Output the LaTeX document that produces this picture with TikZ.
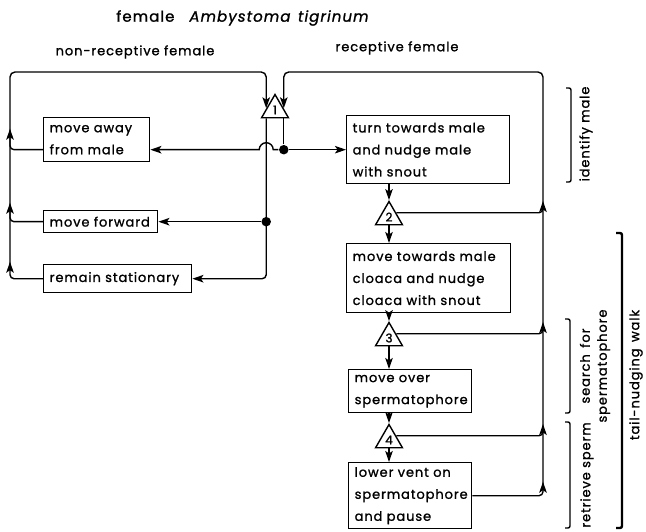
\documentclass[tikz,border=0pt]{standalone}
\usepackage{fontspec}
\setmainfont{Poppins}[LetterSpace=7,FakeBold=1.2]
\usetikzlibrary{arrows,arrows.meta,calc,positioning,shapes.geometric}

\begin{document}
\begin{tikzpicture}[x=1pt,y=-1pt,>={Stealth[length=11pt,width=7.5pt,inset=2.5pt]},
  line width=1.4pt,font=\fontsize{13}{22}\selectfont]
  \tikzstyle{box}=[draw,anchor=north west,align=left,inner xsep=6pt,inner ysep=0pt]
  \tikzstyle{tri}=[draw,regular polygon,regular polygon sides=3,minimum size=31pt,
    inner sep=0pt,font=\fontsize{12}{12}\selectfont]
  \tikzstyle{dot}=[circle,fill,inner sep=0pt,minimum size=9.5pt]
  \tikzstyle{lab}=[rotate=90,align=center,font=\fontsize{13}{17}\selectfont]
  \tikzstyle{bracket}=[rounded corners=2pt]

  \useasboundingbox (0,0) rectangle (646,532);

  \node (title) at (243,18) {\fontsize{15}{17}\selectfont female\quad\textit{Ambystoma\enspace tigrinum}};
  \node (nonrec) at (135,52) {non-receptive female};
  \node (rec) at (397,48) {receptive female};

  % boxes
  \node[box,text width=94pt,minimum height=44pt] (away) at (43,117) {move away\\from male};
  \node[box,text width=102pt,minimum height=22pt] (fwd) at (43,210) {move forward};
  \node[box,text width=136pt,minimum height=28pt] (stay) at (43,264) {remain stationary};
  \node[box,text width=151pt,minimum height=68pt] (turn) at (346,115) {turn towards male\\and nudge male\\with snout};
  \node[box,text width=152pt,minimum height=69pt] (cloaca) at (346,243) {move towards male\\cloaca and nudge\\cloaca with snout};
  \node[box,text width=111pt,minimum height=43pt] (over) at (348,369) {move over\\spermatophore};
  \node[box,text width=111pt,minimum height=66pt] (vent) at (348,462) {lower vent on\\spermatophore\\and pause};

  % decision triangles
  \node[tri] (t1) at (275,110) {1};
  \node[tri] (t2) at (389,217) {2};
  \node[tri] (t3) at (389,338) {3};
  \node[tri] (t4) at (389,440) {4};

  \coordinate (t1a) at ($(t1.corner 1)!0.6!(t1.corner 2)$);
  \coordinate (t1b) at ($(t1.corner 1)!0.6!(t1.corner 3)$);
  \coordinate (t1c) at ($(t1.corner 2)!0.2!(t1.corner 3)$);
  \coordinate (t1d) at ($(t1.corner 2)!0.8!(t1.corner 3)$);
  \coordinate (ll) at (10,72);
  \coordinate (rl) at (543,72);

  \node[dot] (d1) at (t1d |- turn.west) {};
  \node[dot] (d2) at (t1c |- fwd.east) {};

  % non-receptive female
  \draw (t1d) -- (d1);
  \draw[->] (d1) -- (turn.west);
  \draw[->] (d1) -- ($(d1 -| t1c)+(7,0)$) arc[start angle=0,end angle=180,radius=7pt]
    -- (away.east |- d1);
  \draw[->,rounded corners=4pt] (t1c) |- (stay.east);
  \draw[->] (d2) -- (fwd.east);
  \draw[->,rounded corners=4pt] (away.west |- d1) -| ($(ll |- d1)+(0,-21)$);
  \draw[->,rounded corners=4pt] (fwd.west) -| ($(ll |- fwd.west)+(0,-19)$);
  \draw[->,rounded corners=4pt] (stay.west) -| ($(ll |- stay.west)+(0,-17)$);
  \draw[->,rounded corners=5pt] ($(ll |- stay.west)+(0,-8)$) |- (t1a |- ll) -- (t1a);

  % receptive female
  \draw[->] (turn.south -| t2) -- (t2.corner 1);
  \draw[->] (t2.corner 2 -| t2) -- (cloaca.north -| t2);
  \draw[->] (cloaca.south -| t3) -- (t3.corner 1);
  \draw[->] (t3.corner 2 -| t3) -- (over.north -| t3);
  \draw[->] (over.south -| t4) -- (t4.corner 1);
  \draw[->] (t4.corner 2 -| t4) -- (vent.north -| t4);
  \foreach \t in {t2,t3,t4}
    \draw[->,rounded corners=4pt] ($(\t.corner 1)!0.5!(\t.corner 3)$)
      -| ($(rl |- \t)+(0,-16)$);
  \draw[->,rounded corners=4pt] (vent.east) -| ($(rl |- vent.east)+(0,-14)$);
  \draw[->,rounded corners=5pt] ($(rl |- vent.east)+(0,-8)$) |- (t1b |- rl) -- (t1b);

  % phases
  \draw[bracket] (566,88) -- (571,88) -- (571,182) -- (566,182);
  \node[lab] (idmale) at (586,134) {identify male};
  \draw[bracket] (565,319) -- (570,319) -- (570,413) -- (565,413);
  \node[lab] (search) at (595,366) {search\enspace for\\spermatophore};
  \draw[bracket] (565,422) -- (570,422) -- (570,528) -- (565,528);
  \node[lab] (retrieve) at (587,475) {retrieve sperm};
  \draw[bracket,line width=2.4pt] (616,233) -- (622,233) -- (622,528) -- (616,528);
  \node[lab] (walk) at (636,375) {tail-nudging\enspace walk};
\end{tikzpicture}
\end{document}
